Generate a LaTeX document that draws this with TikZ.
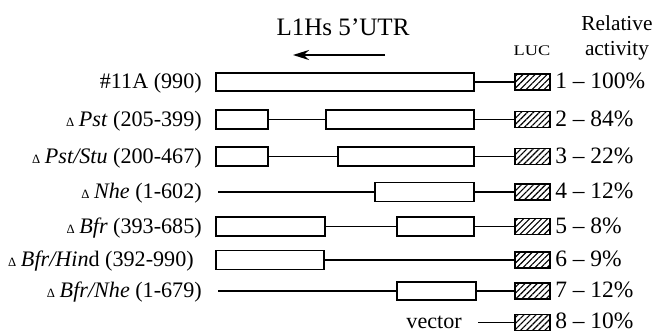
\documentclass[tikz,border=0pt]{standalone}
\usepackage{fontspec}
\usepackage{graphicx}
\setmainfont{Liberation Serif}
\usetikzlibrary{fit,patterns.meta,arrows.meta}

\tikzset{
  seg/.style={draw, line width=1.2pt, fill=white, inner sep=0pt},
  luc/.style={draw, line width=1.2pt, inner sep=0pt,
    pattern={Lines[angle=45,distance=3.2pt,line width=0.85pt]}},
  conn/.style={line width=1.2pt},
  lab/.style={font=\fontsize{16.6}{18}\selectfont, inner sep=0pt, anchor=base east},
  pct/.style={font=\fontsize{17.6}{19}\selectfont, inner sep=0pt, anchor=base west},
  hdr/.style={font=\fontsize{16}{18}\selectfont, inner sep=0pt, anchor=base},
}
\newcommand{\dl}{{\fontsize{9.5}{10}\selectfont Δ}\hspace{3.5pt}}

\begin{document}
\begin{tikzpicture}[x=0.75pt, y=-0.75pt]
\useasboundingbox (0,0) rectangle (657,332);

% header
\node[hdr, font=\fontsize{18.8}{20}\selectfont] (title) at (343,35) {L1Hs 5’UTR};
\coordinate (arrS) at (385,55);
\coordinate (arrE) at (293,55);
\draw[line width=1.5pt, -{Stealth[length=12pt,width=7.5pt]}] (arrS) -- (arrE);
\node[hdr, font=\fontsize{11}{12}\selectfont] (luchdr) at (532,55) {\scalebox{1.25}[1]{LUC}};
\node[hdr] (rel) at (617,31) {Relative};
\node[hdr] (act) at (617,55) {activity};

% 1: #11A
\node[seg, fit={(216,73) (474,91)}] (a1) {};
\node[luc, fit={(515,74) (550,90)}] (l1) {};
\draw[conn] (a1.east) -- (l1.west);
\node[lab] (t1) at (202,88.5) {\#11A (990)};
\node[pct] (p1) at (555,88.5) {1 – 100\%};

% 2: Pst
\node[seg, fit={(216,110) (268,129)}] (a2) {};
\node[seg, fit={(326,110) (474,129)}] (b2) {};
\node[luc, fit={(515,111.5) (550,127.5)}] (l2) {};
\draw[conn] (a2.east) -- (b2.west);
\draw[conn] (b2.east) -- (l2.west);
\node[lab] (t2) at (202,126) {\dl\textit{Pst} (205-399)};
\node[pct] (p2) at (555,126) {2 – 84\%};

% 3: Pst/Stu
\node[seg, fit={(216,147) (268,166)}] (a3) {};
\node[seg, fit={(338,147) (474,166)}] (b3) {};
\node[luc, fit={(515,148.5) (550,164.5)}] (l3) {};
\draw[conn] (a3.east) -- (b3.west);
\draw[conn] (b3.east) -- (l3.west);
\node[lab] (t3) at (202,163) {\dl\textit{Pst/Stu} (200-467)};
\node[pct] (p3) at (555,163) {3 – 22\%};

% 4: Nhe
\coordinate (s4) at (218,192);
\node[seg, fit={(375,182.5) (474,201.5)}] (b4) {};
\node[luc, fit={(515,184) (550,200)}] (l4) {};
\draw[conn] (s4) -- (b4.west);
\draw[conn] (b4.east) -- (l4.west);
\node[lab] (t4) at (202,198.5) {\dl\textit{Nhe} (1-602)};
\node[pct] (p4) at (555,198.5) {4 – 12\%};

% 5: Bfr
\node[seg, fit={(216,217) (325,236)}] (a5) {};
\node[seg, fit={(397,217) (474,236)}] (b5) {};
\node[luc, fit={(515,218.5) (550,234.5)}] (l5) {};
\draw[conn] (a5.east) -- (b5.west);
\draw[conn] (b5.east) -- (l5.west);
\node[lab] (t5) at (202,233) {\dl\textit{Bfr} (393-685)};
\node[pct] (p5) at (555,233) {5 – 8\%};

% 6: Bfr/Hind
\node[seg, fit={(216,250.5) (324,269.5)}] (a6) {};
\node[luc, fit={(515,252) (550,268)}] (l6) {};
\draw[conn] (a6.east) -- (l6.west);
\node[lab] (t6) at (194,266.5) {\dl\textit{Bfr/Hin}d (392-990)};
\node[pct] (p6) at (555,266.5) {6 – 9\%};

% 7: Bfr/Nhe
\coordinate (s7) at (218,291);
\node[seg, fit={(397,282) (476,300)}] (b7) {};
\node[luc, fit={(515,283) (550,299)}] (l7) {};
\draw[conn] (s7) -- (b7.west);
\draw[conn] (b7.east) -- (l7.west);
\node[lab] (t7) at (202,297.5) {\dl\textit{Bfr/Nhe} (1-679)};
\node[pct] (p7) at (555,297.5) {7 – 12\%};

% 8: vector
\coordinate (s8) at (478,322.5);
\node[luc, fit={(515,314.5) (550,330.5)}] (l8) {};
\draw[conn] (s8) -- (l8.west);
\node[lab] (t8) at (462,328) {vector};
\node[pct] (p8) at (555,328) {8 – 10\%};
\end{tikzpicture}
\end{document}
